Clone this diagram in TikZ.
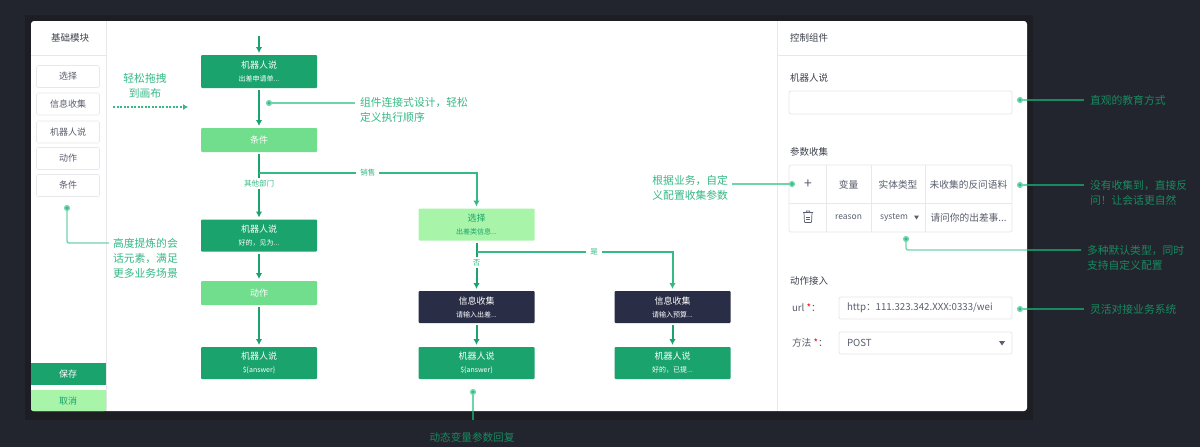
\documentclass[tikz,border=0pt]{standalone}
\usepackage{fontspec}
\setmainfont{Noto Sans CJK SC}
\usetikzlibrary{arrows.meta,calc}
\newcommand{\subtxt}{\fontsize{7}{14}\selectfont}
\definecolor{bgdark}{HTML}{22252D}
\definecolor{shadowc}{HTML}{1C1E24}
\definecolor{gmain}{HTML}{1AA36D}
\definecolor{glight}{HTML}{70DE8C}
\definecolor{gpale}{HTML}{A8F4A8}
\definecolor{navy}{HTML}{292D45}
\definecolor{gline}{HTML}{6FD3AB}
\definecolor{gtextd}{HTML}{178A60}
\definecolor{gtextl}{HTML}{35B985}
\definecolor{rule}{HTML}{E6E8EB}
\definecolor{ink}{HTML}{5A5E6E}
\tikzset{
  x=1pt,y=-1pt,
  base/.style={inner sep=0pt,outer sep=0pt,align=center},
  flow/.style={base,rectangle,rounded corners=1pt,minimum width=116pt,font=\fontsize{9}{14}\selectfont,text=white},
  robot/.style={flow,fill=gmain,minimum height=33pt},
  cond/.style={flow,fill=glight,minimum height=24pt},
  pick/.style={flow,fill=gpale,minimum height=32pt,text=gmain},
  info/.style={flow,fill=navy,minimum height=32pt},
  item/.style={base,draw=rule,line width=.6pt,rounded corners=1.5pt,minimum width=63pt,minimum height=22pt,fill=white,text=ink,font=\fontsize{9}{10}\selectfont},
  title/.style={base,anchor=west,text=ink!70!black,font=\fontsize{9.5}{10}\selectfont},
  flowarrow/.style={draw=gmain,line width=2pt,-{Latex[length=6pt,width=6.5pt]},shorten >=2pt,shorten <=2pt},
  branch/.style={draw=gtextl,line width=2pt},
  call/.style={draw=gline,line width=1.4pt,-{Circle[length=6pt,width=6pt,fill=gtextl]}},
  calldark/.style={draw=gtextd,line width=1.4pt},
  lab/.style={base,fill=white,inner xsep=4pt,inner ysep=2pt,text=gtextl,font=\fontsize{7.5}{8}\selectfont},
  noteL/.style={base,text=gtextl,font=\fontsize{10.8}{15}\selectfont},
  noteD/.style={base,anchor=west,align=left,text=gtextd,font=\fontsize{10.8}{15}\selectfont},
  cell/.style={base,text=ink,font=\fontsize{9.7}{10}\selectfont},
  field/.style={base,draw=rule,line width=.8pt,rounded corners=2pt,fill=white},
}
\begin{document}
\begin{tikzpicture}
\useasboundingbox (0,0) rectangle (1200,447);
\fill[bgdark] (0,0) rectangle (1200,447);
\fill[shadowc] (25,15) rectangle (1033,420);
% card
\fill[white,rounded corners=3pt] (31,21) rectangle (1027,411);
\draw[rule,line width=.8pt] (106,21) -- (106,411);
\draw[rule,line width=.8pt] (777,21) -- (777,411);
\draw[rule,line width=.8pt] (31,55) -- (106,55);
\draw[rule,line width=.8pt] (777,55) -- (1027,55);
\node[title,anchor=center] (tb) at (70,38) {基础模块};
\node[title] (tc) at (790,38) {控制组件};
% palette
\node[item] (p1) at (68,76.5) {选择};
\node[item] (p2) at (68,104) {信息收集};
\node[item] (p3) at (68,132) {机器人说};
\node[item] (p4) at (68,158.5) {动作};
\node[item] (p5) at (68,185.5) {条件};
\fill[gmain] (31,363) rectangle (106,385);
\node[base,text=white,font=\fontsize{9}{10}\selectfont] (save) at (68,374) {保存};
\fill[gpale,rounded corners=2pt] (31,390) rectangle (106,411);
\fill[gpale] (50,390) rectangle (106,411);
\fill[gpale] (31,390) rectangle (60,400);
\node[base,text=gmain,font=\fontsize{9}{10}\selectfont] (cancel) at (68,401) {取消};
% flow nodes
\coordinate (start) at (259,36);
\node[robot] (r1) at (259,71.5) {机器人说\\[-1pt]{\subtxt 出差申请单...}};
\node[cond] (c1) at (259,140) {条件};
\node[robot,minimum height=32pt] (r2) at (259,235.5) {机器人说\\[-1pt]{\subtxt 好的，见为...}};
\node[cond] (a1) at (259,293) {动作};
\node[robot,minimum height=32pt] (r3) at (259,363) {机器人说\\[-1pt]{\subtxt \$\{answer\}}};
\node[pick] (s1) at (476.5,224.5) {选择\\[-1pt]{\subtxt 出差类信息...}};
\node[info] (i1) at (476.5,307) {信息收集\\[-1pt]{\subtxt 请输入出差...}};
\node[info] (i2) at (672.5,307) {信息收集\\[-1pt]{\subtxt 请输入预算...}};
\node[robot,minimum height=32pt] (r4) at (476.5,363) {机器人说\\[-1pt]{\subtxt \$\{answer\}}};
\node[robot,minimum height=32pt] (r5) at (672.5,363) {机器人说\\[-1pt]{\subtxt 好的，已提...}};
% flow connectors
\draw[flowarrow,shorten <=0pt] (start) -- (r1.north);
\draw[flowarrow] (r1) -- (c1);
\draw[flowarrow] (c1) -- node[lab,pos=.47] (l1) {其他部门} (r2);
\draw[flowarrow] (r2) -- (a1);
\draw[flowarrow] (a1) -- (r3);
\coordinate (b1) at (259,173);
\draw[branch,-{Latex[length=6pt,width=6.5pt]},shorten >=2pt] (b1) -| node[lab,pos=.25] (l2) {销售} (s1.north);
\draw[flowarrow] (s1) -- node[lab,pos=.44,inner ysep=2pt] (l3) {否} (i1);
\coordinate (b2) at (476.5,252);
\draw[branch,-{Latex[length=6pt,width=6.5pt]},shorten >=2pt] (b2) -| node[lab,pos=.3] (l4) {是} (i2.north);
\draw[flowarrow] (i1) -- (r4);
\draw[flowarrow] (i2) -- (r5);
% left notes
\node[noteL] (n1) at (145,85.5) {轻松拖拽\\到画布};
\coordinate (d1a) at (113,107);
\coordinate (d1b) at (188,107);
\draw[draw=gtextl,line width=1.8pt,dash pattern=on 2pt off 1.5pt,-{Latex[length=5pt,width=6pt]}] (d1a) -- (d1b);
\node[noteD,text=gtextl] (n2) at (360,109.5) {组件连接式设计，轻松\\定义执行顺序};
\coordinate (d2) at (266,103);
\draw[call] (355,103) coordinate (n2s) -- (d2);
\node[noteD,text=gtextl] (n3) at (113,258) {高度提炼的会\\话元素，满足\\更多业务场景};
\coordinate (d3) at (67,205);
\draw[call,rounded corners=2pt] (109,243) coordinate (n3s) -| (d3);
\node[base,font=\fontsize{10.6}{15}\selectfont,text=gtextd] (n4) at (472,437) {动态变量参数回复};
\coordinate (d4) at (473,389);
\draw[call] (473,420) coordinate (n4s) -- (d4);
\draw[calldark] (n4s) -- (473,411);
\node[noteD,text=gtextl,align=right,anchor=east] (n5) at (728,187.5) {根据业务，自定\\义配置收集参数};
% right panel
\node[title] (t1) at (790,78) {机器人说};
\node[field,minimum width=223pt,minimum height=23pt] (f1) at (900.5,102.5) {};
\node[title] (t2) at (790,152) {参数收集};
\draw[rule,line width=.8pt,rounded corners=2pt] (789,165) rectangle (1012,232);
\draw[rule,line width=.8pt] (789,203) -- (1012,203);
\foreach \xx in {826,871,925} \draw[rule,line width=.8pt] (\xx,165) -- (\xx,232);
\node[cell,font=\fontsize{14}{14}\selectfont] (plus) at (808,184) {+};
\node[cell] (h1) at (848.5,184.5) {变量};
\node[cell] (h2) at (898,184.5) {实体类型};
\node[cell] (h3) at (968.5,184.5) {未收集的反问语料};
\node[cell,font=\fontsize{8.5}{10}\selectfont] (v1) at (848.5,217.5) {reason};
\node[cell,font=\fontsize{8.5}{10}\selectfont] (v2) at (894,217.5) {system};
\fill[ink] (914,215.5) -- (919,215.5) -- (916.5,219.5) -- cycle;
\node[cell] (v3) at (968.5,217.5) {请问你的出差事...};
% trash can
\draw[ink,line width=.7pt] (803,212.5) -- (813,212.5) (806,212.5) -- (806.5,211) -- (809.5,211) -- (810,212.5);
\draw[ink,line width=.7pt,rounded corners=.7pt] (804,212.5) -- (804.5,222.5) -- (811.5,222.5) -- (812,212.5);
\draw[ink,line width=.5pt] (806,217) -- (810,217) (806,219.5) -- (810,219.5);
\node[title] (t3) at (790,281) {动作接入};
\node[cell,anchor=west] (k1) at (792,308) {url \textcolor{red}{*}：};
\node[cell,anchor=west] (k2) at (792,343) {方法 \textcolor{red}{*}：};
\node[field,minimum width=173pt,minimum height=22pt] (f2) at (925.5,308) {};
\node[field,minimum width=173pt,minimum height=22pt] (f3) at (925.5,343) {};
\node[cell,anchor=west] (u1) at (847,308) {http：111.323.342.XXX:0333/wei};
\node[cell,anchor=west] (u2) at (847,343) {POST};
\fill[ink] (999,341) -- (1005,341) -- (1002,345.5) -- cycle;
% right notes
\node[noteD] (n6) at (1090,100) {直观的教育方式};
\node[noteD] (n7) at (1090,192.5) {没有收集到，直接反\\问！让会话更自然};
\node[noteD] (n8) at (1087,257.5) {多种默认类型，同时\\支持自定义配置};
\node[noteD] (n9) at (1090,309) {灵活对接业务系统};
\coordinate (d6) at (1017,100);
\coordinate (d7) at (1017,185);
\coordinate (d8) at (906,236);
\coordinate (d9) at (1017,309);
\coordinate (d5) at (795,184);
\draw[call] (1084,100) coordinate (n6s) -- (d6);
\draw[call] (1084,185) coordinate (n7s) -- (d7);
\draw[call,rounded corners=2pt] (1081,250) coordinate (n8s) -| (d8);
\draw[call] (1084,309) coordinate (n9s) -- (d9);
\draw[calldark] (n6s) -- (1027,100);
\draw[calldark] (n7s) -- (1027,185);
\draw[calldark] (n8s) -- (1027,250);
\draw[calldark] (n9s) -- (1027,309);
\draw[call] (732,184) coordinate (n5s) -- (d5);
\end{tikzpicture}
\end{document}
